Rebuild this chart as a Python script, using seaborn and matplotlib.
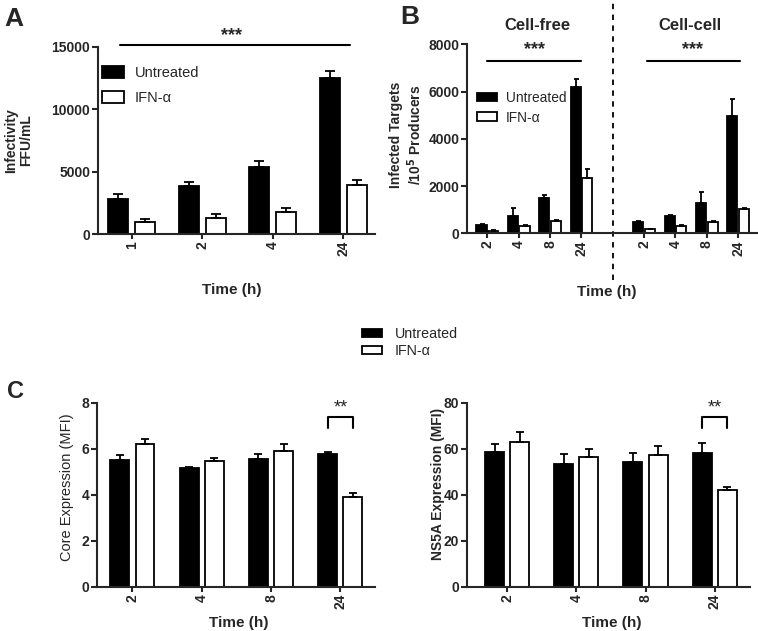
import matplotlib
matplotlib.use("Agg")
import matplotlib.pyplot as plt
import matplotlib.transforms as mtransforms
import seaborn as sns
import pandas as pd

# ---------------- data ----------------
treatments = ["Untreated", "IFN-α"]

a_times = ["1", "2", "4", "24"]
a_untreated = [2800, 3850, 5400, 12500]
a_untreated_err = [400, 300, 450, 600]
a_ifn = [950, 1300, 1800, 3900]
a_ifn_err = [250, 300, 320, 430]

b_times = ["2", "4", "8", "24"]
b_cf_untreated = [370, 750, 1510, 6180]
b_cf_untreated_err = [50, 320, 130, 360]
b_cf_ifn = [120, 320, 540, 2360]
b_cf_ifn_err = [20, 40, 30, 350]
b_cc_untreated = [500, 750, 1290, 4980]
b_cc_untreated_err = [20, 30, 470, 720]
b_cc_ifn = [170, 330, 500, 1020]
b_cc_ifn_err = [30, 40, 30, 50]

c_times = ["2", "4", "8", "24"]
core_untreated = [5.52, 5.17, 5.55, 5.78]
core_untreated_err = [0.22, 0.06, 0.22, 0.08]
core_ifn = [6.23, 5.47, 5.90, 3.93]
core_ifn_err = [0.20, 0.14, 0.30, 0.14]
ns5a_untreated = [58.5, 53.6, 54.4, 58.3]
ns5a_untreated_err = [3.6, 4.1, 4.0, 4.3]
ns5a_ifn = [62.9, 56.7, 57.5, 42.1]
ns5a_ifn_err = [4.5, 3.4, 4.0, 1.3]

# ---------------- style ----------------
sns.set_theme(style="ticks")
plt.rcParams['font.family'] = ['Liberation Sans', 'DejaVu Sans']
plt.rcParams['axes.linewidth'] = 1.5
plt.rcParams['xtick.major.width'] = 1.5
plt.rcParams['ytick.major.width'] = 1.5
plt.rcParams['xtick.major.size'] = 3.5
plt.rcParams['ytick.major.size'] = 4.5
plt.rcParams['xtick.major.pad'] = 1.5
plt.rcParams['ytick.major.pad'] = 1.0

W, H = 758, 631
fig = plt.figure(figsize=(W / 100, H / 100), dpi=100)
palette = {"Untreated": "black", "IFN-α": "white"}


def px_axes(l, t, r, b):
    return fig.add_axes([l / W, 1 - b / H, (r - l) / W, (b - t) / H])


def draw(ax, cats, order, untr, untr_err, ifn, ifn_err, width, gap, capsize):
    n = len(cats)
    df = pd.DataFrame({
        "Time": list(cats) * 2,
        "Treatment": ["Untreated"] * n + ["IFN-α"] * n,
        "Value": list(untr) + list(ifn),
    })
    sns.barplot(data=df, x="Time", y="Value", hue="Treatment", order=order,
                hue_order=treatments, palette=palette, edgecolor="black",
                linewidth=1.3, width=width, gap=gap, errorbar=None,
                saturation=1, ax=ax)
    for cont, errs in zip(ax.containers, [untr_err, ifn_err]):
        for bar, e in zip(cont, errs):
            x = bar.get_x() + bar.get_width() / 2
            ax.errorbar(x, bar.get_height(), yerr=[[0], [e]], fmt="none",
                        ecolor="black", elinewidth=1.3, capsize=capsize,
                        capthick=1.3, zorder=3)
    sns.despine(ax=ax)
    ax.set_xlabel("Time (h)", fontsize=11, fontweight="bold")
    for t in ax.get_xticklabels() + ax.get_yticklabels():
        t.set_fontweight("bold")
        t.set_fontsize(10)
    ax.tick_params(axis="x", rotation=90)


def legend(ax, x, y, fs, hl, hh, htp, ls):
    handles, labels = ax.get_legend_handles_labels()
    ax.legend(handles, labels, loc="upper left", bbox_to_anchor=(x / W, 1 - y / H),
              bbox_transform=fig.transFigure, frameon=False, fontsize=fs,
              handlelength=hl, handleheight=hh, handletextpad=htp,
              labelspacing=ls, borderpad=0, borderaxespad=0)


# ---------------- Panel A ----------------
axA = px_axes(98, 47, 375, 234)
draw(axA, a_times, a_times, a_untreated, a_untreated_err, a_ifn, a_ifn_err,
     width=0.76, gap=0.25, capsize=3.6)
axA.set_xlim(-0.48, 3.45)
axA.set_ylim(0, 15000)
axA.set_yticks([0, 5000, 10000, 15000])
axA.set_ylabel("Infectivity\nFFU/mL", fontsize=10, fontweight="bold", linespacing=1.1)
axA.yaxis.set_label_coords(-0.235, 0.5)
axA.xaxis.set_label_coords(0.484, -0.262)
legend(axA, 102, 66, 10.5, 1.5, 0.85, 0.75, 0.75)
axA.plot([-0.17, 3.09], [15160, 15160], color="black", lw=1.5, clip_on=False)
axA.text(1.42, 15950, "***", ha="center", va="center", fontsize=13, fontweight="bold")

# ---------------- Panel B ----------------
axB = px_axes(467, 44.3, 757, 233.5)
b_cats = ["cf" + t for t in b_times] + ["cc" + t for t in b_times]
b_order = ["cf" + t for t in b_times] + ["gap"] + ["cc" + t for t in b_times]
draw(axB, b_cats, b_order,
     b_cf_untreated + b_cc_untreated, b_cf_untreated_err + b_cc_untreated_err,
     b_cf_ifn + b_cc_ifn, b_cf_ifn_err + b_cc_ifn_err,
     width=0.745, gap=0.13, capsize=1.8)
axB.set_xlim(-0.65, 8.6)
axB.set_ylim(0, 8000)
axB.set_yticks([0, 2000, 4000, 6000, 8000])
axB.set_xticks([0, 1, 2, 3, 5, 6, 7, 8])
axB.set_xticklabels(b_times + b_times, rotation=90, fontweight="bold", fontsize=10)
axB.set_ylabel("Infected Targets\n/10$^{\\mathbf{5}}$ Producers", fontsize=10,
               fontweight="bold", linespacing=1.1)
axB.yaxis.set_label_coords(-0.15, 0.52)
axB.xaxis.set_label_coords(0.483, -0.272)
legend(axB, 477, 91, 9.9, 1.48, 0.55, 0.6, 0.4)
trB = mtransforms.blended_transform_factory(axB.transData, axB.transAxes)
axB.plot([4, 4], [-0.246, 1.234], transform=trB, color="black", lw=1.3,
         ls=(0, (3, 3)), clip_on=False)
axB.plot([0, 3], [7290, 7290], color="black", lw=1.5, clip_on=False)
axB.plot([5.1, 8.05], [7290, 7290], color="black", lw=1.5, clip_on=False)
axB.text(1.5, 7780, "***", ha="center", va="center", fontsize=13, fontweight="bold")
axB.text(6.55, 7780, "***", ha="center", va="center", fontsize=13, fontweight="bold")
axB.text(1.59, 1.102, "Cell-free", transform=trB, ha="center", va="center",
         fontsize=12, fontweight="bold")
axB.text(6.47, 1.102, "Cell-cell", transform=trB, ha="center", va="center",
         fontsize=12, fontweight="bold")

# ---------------- Panel C ----------------
axC1 = px_axes(97, 403, 375, 587)
draw(axC1, c_times, c_times, core_untreated, core_untreated_err, core_ifn,
     core_ifn_err, width=0.73, gap=0.25, capsize=3.1)
axC1.set_xlim(-0.51, 3.5)
axC1.set_ylim(0, 8)
axC1.set_yticks([0, 2, 4, 6, 8])
axC1.set_ylabel("Core Expression (MFI)", fontsize=10.5)
axC1.yaxis.set_label_coords(-0.083, 0.54)
axC1.xaxis.set_label_coords(0.51, -0.16)
axC1.get_legend().remove()
axC1.plot([2.82, 2.82, 3.18, 3.18], [6.9, 7.39, 7.39, 6.9], color="black", lw=1.5)
axC1.text(3.0, 7.8, "**", ha="center", va="center", fontsize=13)

axC2 = px_axes(467, 403, 750, 587)
draw(axC2, c_times, c_times, ns5a_untreated, ns5a_untreated_err, ns5a_ifn,
     ns5a_ifn_err, width=0.73, gap=0.25, capsize=3.1)
axC2.set_xlim(-0.58, 3.51)
axC2.set_ylim(0, 80)
axC2.set_yticks([0, 20, 40, 60, 80])
axC2.set_ylabel("NS5A Expression (MFI)", fontsize=10, fontweight="bold")
axC2.yaxis.set_label_coords(-0.078, 0.56)
axC2.xaxis.set_label_coords(0.512, -0.16)
handles, labels = axC2.get_legend_handles_labels()
axC2.get_legend().remove()
fig.legend(handles, labels, loc="upper left", bbox_to_anchor=(362 / W, 1 - 327 / H),
           frameon=False, fontsize=10.3, handlelength=1.4, handleheight=0.45,
           handletextpad=0.9, labelspacing=0.2, borderpad=0, borderaxespad=0)
axC2.plot([2.82, 2.82, 3.18, 3.18], [69, 73.9, 73.9, 69], color="black", lw=1.5)
axC2.text(3.0, 78, "**", ha="center", va="center", fontsize=13)

# ---------------- panel letters ----------------
fig.text(14 / W, 1 - 19 / H, "A", fontsize=19, fontweight="bold", ha="center", va="center")
fig.text(410 / W, 1 - 17 / H, "B", fontsize=19, fontweight="bold", ha="center", va="center")
fig.text(16 / W, 1 - 392 / H, "C", fontsize=17, fontweight="bold", ha="center", va="center")

fig.savefig("out.png", dpi=100)
